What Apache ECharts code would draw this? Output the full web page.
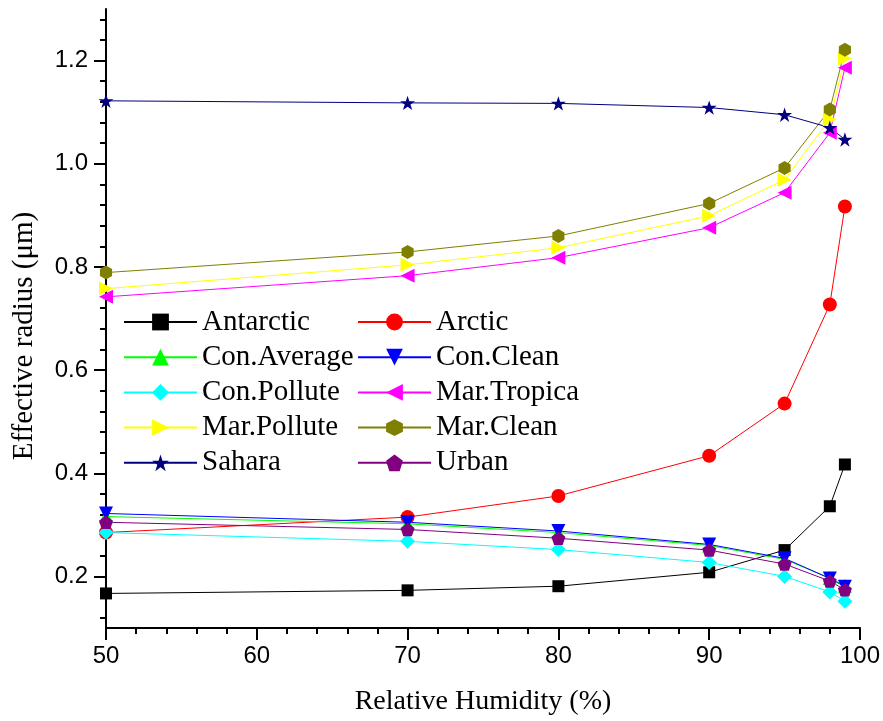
<!DOCTYPE html>
<html>
<head>
<meta charset="utf-8">
<script src="https://cdn.jsdelivr.net/npm/echarts@6/dist/echarts.min.js"></script>
<style>
  html, body { margin: 0; padding: 0; background: #fff; }
  #chart { width: 883px; height: 721px; }
</style>
</head>
<body>
<div id="chart"></div>
<script>
// Relative humidity (%) at which each aerosol type was evaluated
const humidity = [50, 70, 80, 90, 95, 98, 99];

// Effective radius (µm) per aerosol type
const antarctic  = [0.167, 0.173, 0.181, 0.208, 0.251, 0.336, 0.417];
const arctic     = [0.285, 0.315, 0.356, 0.434, 0.535, 0.727, 0.917];
const conAverage = [0.316, 0.302, 0.285, 0.260, 0.233, 0.197, 0.182];
const conClean   = [0.322, 0.305, 0.288, 0.262, 0.235, 0.196, 0.180];
const conPollute = [0.285, 0.268, 0.252, 0.227, 0.200, 0.170, 0.152];
const marTropica = [0.742, 0.783, 0.818, 0.876, 0.944, 1.060, 1.186];
const marPollute = [0.758, 0.804, 0.837, 0.899, 0.969, 1.086, 1.204];
const marClean   = [0.789, 0.829, 0.860, 0.923, 0.992, 1.105, 1.221];
const sahara     = [1.122, 1.118, 1.117, 1.109, 1.095, 1.070, 1.047];
const urban      = [0.305, 0.291, 0.274, 0.251, 0.224, 0.191, 0.174];

// Axis ticks
const yMajorTicks = [0.2, 0.4, 0.6, 0.8, 1.0, 1.2];
const yMinorTicks = [0.12, 0.16, 0.24, 0.28, 0.32, 0.36, 0.44, 0.48, 0.52, 0.56,
                     0.64, 0.68, 0.72, 0.76, 0.84, 0.88, 0.92, 0.96, 1.04, 1.08,
                     1.12, 1.16, 1.24, 1.28];

const STAR = 'path://M0,-10 L2.245,-3.09 L9.51,-3.09 L3.633,1.18 L5.878,8.09 L0,3.82 L-5.878,8.09 L-3.633,1.18 L-9.51,-3.09 L-2.245,-3.09 Z';
const HEXAGON = 'path://M0,-10 L8.66,-5 L8.66,5 L0,10 L-8.66,5 L-8.66,-5 Z';
const PENTAGON = 'path://M0,-10 L9.51,-3.09 L5.88,8.09 L-5.88,8.09 L-9.51,-3.09 Z';

const seriesDefs = [
  { name: 'Antarctic',   data: antarctic,  color: '#000000', symbol: 'rect',     size: 12, rotate: 0 },
  { name: 'Arctic',      data: arctic,     color: '#ff0000', symbol: 'circle',   size: 14, rotate: 0 },
  { name: 'Con.Average', data: conAverage, color: '#00ff00', symbol: 'triangle', size: 14, rotate: 0 },
  { name: 'Con.Clean',   data: conClean,   color: '#0000ff', symbol: 'triangle', size: 14, rotate: 180 },
  { name: 'Con.Pollute', data: conPollute, color: '#00ffff', symbol: 'diamond',  size: 15, rotate: 0 },
  { name: 'Mar.Tropica', data: marTropica, color: '#ff00ff', symbol: 'triangle', size: 14, rotate: 90 },
  { name: 'Mar.Pollute', data: marPollute, color: '#ffff00', symbol: 'triangle', size: 14, rotate: -90 },
  { name: 'Mar.Clean',   data: marClean,   color: '#808000', symbol: HEXAGON,    size: 14, rotate: 0 },
  { name: 'Sahara',      data: sahara,     color: '#000080', symbol: STAR,       size: 15, rotate: 0 },
  { name: 'Urban',       data: urban,      color: '#800080', symbol: PENTAGON,   size: 14, rotate: 0 }
];

const serif = '"Liberation Serif", "Times New Roman", serif';
const sans = '"Liberation Sans", Arial, sans-serif';

const legendCommon = {
  orient: 'vertical',
  top: 305,
  itemWidth: 73,
  itemHeight: 21,
  itemGap: 1.2,
  padding: 0,
  textStyle: { fontFamily: serif, fontSize: 29, color: '#000', lineHeight: 34, padding: [0, 0, 0, 0] }
};

const chart = echarts.init(document.getElementById('chart'), null, { renderer: 'canvas' });

chart.setOption({
  animation: false,
  backgroundColor: '#ffffff',
  grid: { left: 106, right: 22, top: 9, bottom: 92, containLabel: false },
  graphic: [
    {
      // vertical axis title
      type: 'text',
      x: 24,
      y: 336,
      rotation: Math.PI / 2,
      style: {
        text: 'Effective radius (\u03bcm)',
        fontFamily: serif,
        fontSize: 29,
        fill: '#000',
        align: 'center',
        verticalAlign: 'middle'
      }
    }
  ],
  legend: [
    Object.assign({}, legendCommon, {
      left: 123,
      data: ['Antarctic', 'Con.Average', 'Con.Pollute', 'Mar.Pollute', 'Sahara']
    }),
    Object.assign({}, legendCommon, {
      left: 357,
      data: ['Arctic', 'Con.Clean', 'Mar.Tropica', 'Mar.Clean', 'Urban']
    })
  ],
  xAxis: {
    type: 'value',
    min: 50,
    max: 100,
    interval: 10,
    name: 'Relative Humidity (%)',
    nameLocation: 'middle',
    nameGap: 60,
    nameTextStyle: { fontFamily: serif, fontSize: 28, color: '#000' },
    axisLine: { show: true, onZero: false, lineStyle: { color: '#000', width: 2 } },
    axisTick: { show: true, inside: false, length: 12, lineStyle: { color: '#000', width: 2 } },
    minorTick: { show: true, splitNumber: 5, length: 6, lineStyle: { color: '#000', width: 2 } },
    axisLabel: { fontFamily: sans, fontSize: 24, color: '#000', margin: 16 },
    splitLine: { show: false },
    minorSplitLine: { show: false }
  },
  yAxis: [
    {
      type: 'value',
      min: 0.1,
      max: 1.3,
      position: 'left',
      axisLine: { show: true, onZero: false, lineStyle: { color: '#000', width: 2 } },
      axisTick: { show: true, inside: false, length: 12, customValues: yMajorTicks,
                  lineStyle: { color: '#000', width: 2 } },
      axisLabel: { fontFamily: sans, fontSize: 24, color: '#000', margin: 18,
                   customValues: yMajorTicks,
                   formatter: v => v.toFixed(1) },
      splitLine: { show: false }
    },
    {
      // minor ticks of the effective radius axis
      type: 'value',
      min: 0.1,
      max: 1.3,
      position: 'left',
      offset: 0,
      axisLine: { show: false },
      axisTick: { show: true, inside: false, length: 6, customValues: yMinorTicks,
                  lineStyle: { color: '#000', width: 2 } },
      axisLabel: { show: false },
      splitLine: { show: false }
    }
  ],
  series: seriesDefs.map(d => ({
    name: d.name,
    type: 'line',
    yAxisIndex: 0,
    data: humidity.map((h, i) => [h, d.data[i]]),
    symbol: d.symbol,
    symbolSize: d.size,
    symbolRotate: d.rotate,
    symbolKeepAspect: true,
    showAllSymbol: true,
    color: d.color,
    itemStyle: { color: d.color, borderWidth: 0 },
    lineStyle: { color: d.color, width: 1 },
    emphasis: { disabled: true }
  }))
});
</script>
</body>
</html>
